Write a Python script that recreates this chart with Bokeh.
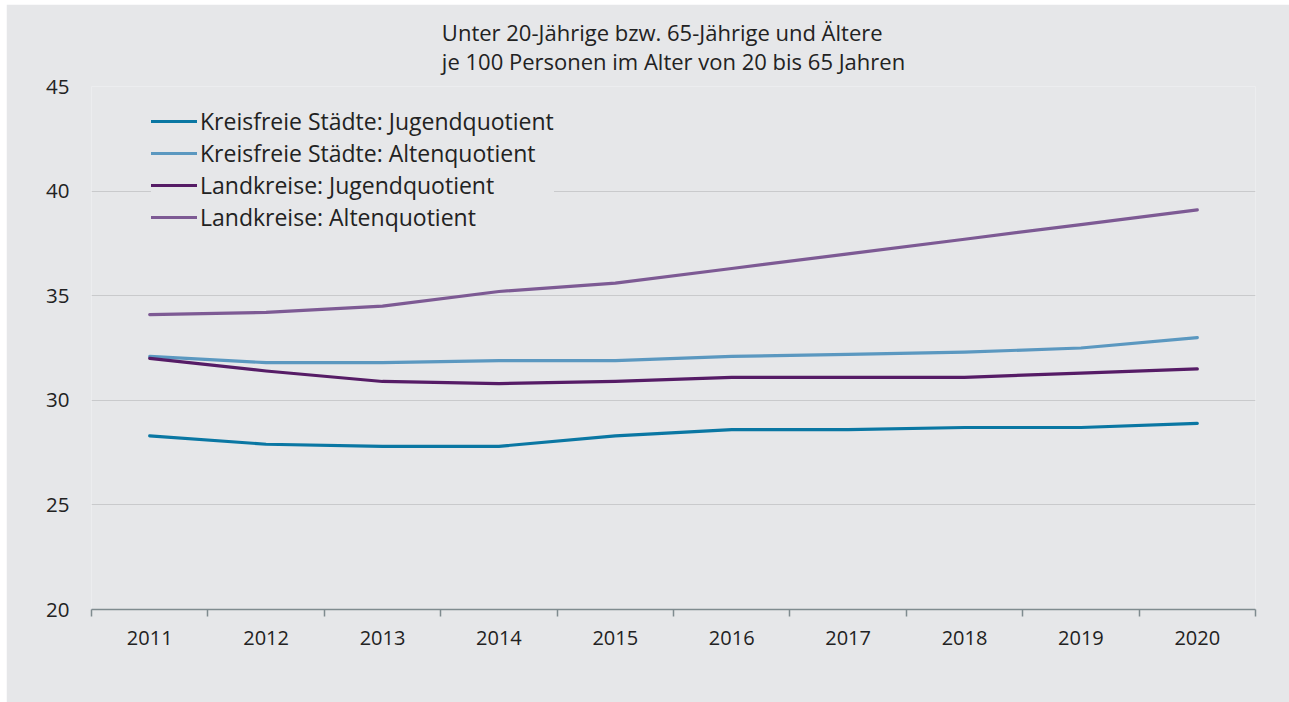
from bokeh.plotting import figure
from bokeh.models import (ColumnDataSource, Range1d, FixedTicker, Legend, LegendItem, Title)
from bokeh.embed import file_html
from bokeh.resources import INLINE

years = ["2011", "2012", "2013", "2014", "2015", "2016", "2017", "2018", "2019", "2020"]
ks_jugend = [28.3, 27.9, 27.8, 27.8, 28.3, 28.6, 28.6, 28.7, 28.7, 28.9]
ks_alten = [32.1, 31.8, 31.8, 31.9, 31.9, 32.1, 32.2, 32.3, 32.5, 33.0]
lk_jugend = [32.0, 31.4, 30.9, 30.8, 30.9, 31.1, 31.1, 31.1, 31.3, 31.5]
lk_alten = [34.1, 34.2, 34.5, 35.2, 35.6, 36.3, 37.0, 37.7, 38.4, 39.1]
series_names = ["Kreisfreie Städte: Jugendquotient", "Kreisfreie Städte: Altenquotient",
                "Landkreise: Jugendquotient", "Landkreise: Altenquotient"]
series_colors = ["#0a77a3", "#5b98c0", "#561c66", "#7d5a94"]
y_ticks = [20, 25, 30, 35, 40, 45]
title_lines = ["Unter 20-Jährige bzw. 65-Jährige und Ältere",
               "je 100 Personen im Alter von 20 bis 65 Jahren"]

BG = "#e6e7e9"
FONT = "Open Sans"
TXT = "#222222"

xpos = [i + 0.5 for i in range(len(years))]

p = figure(width=1283, height=698, output_backend="svg", toolbar_location=None,
           x_range=Range1d(0, len(years)), y_range=Range1d(20, 45),
           min_border_left=85, min_border_right=34, min_border_top=82, min_border_bottom=93,
           title=None)
p.margin = (4, 0, 0, 6)
p.background_fill_color = BG
p.border_fill_color = BG
p.outline_line_color = None

p.add_layout(Title(text="\n".join(title_lines), align="center", text_font=FONT,
                   text_font_size="22px", text_font_style="normal", text_color=TXT,
                   text_line_height=0.97, standoff=21), "above")

items = []
for vals, name, col in zip([ks_jugend, ks_alten, lk_jugend, lk_alten], series_names, series_colors):
    src = ColumnDataSource(dict(x=xpos, y=vals))
    r = p.line("x", "y", source=src, line_color=col, line_width=3.2,
               line_cap="round", line_join="round")
    items.append(LegendItem(label=name, renderers=[r]))

# x axis
xa = p.xaxis[0]
xa.ticker = FixedTicker(ticks=xpos, minor_ticks=list(range(len(years) + 1)))
xa.major_label_overrides = {x: y for x, y in zip(xpos, years)}
xa.major_tick_out = 0
xa.major_tick_in = 0
xa.minor_tick_out = 7
xa.minor_tick_in = 0
xa.minor_tick_line_color = "#7f8b8f"
xa.minor_tick_line_width = 1.5
xa.axis_line_color = "#7f8b8f"
xa.axis_line_width = 1.5
xa.major_label_text_font = FONT
xa.major_label_text_font_size = "20px"
xa.major_label_text_color = TXT
xa.major_label_standoff = 14
p.xgrid.grid_line_color = None

# y axis
ya = p.yaxis[0]
ya.ticker = FixedTicker(ticks=y_ticks, minor_ticks=[])
ya.axis_line_color = None
ya.major_tick_line_color = None
ya.major_tick_out = 0
ya.major_tick_in = 0
ya.minor_tick_line_color = None
ya.major_label_text_font = FONT
ya.major_label_text_font_size = "20.5px"
ya.major_label_text_color = TXT
ya.major_label_standoff = 22
p.ygrid.grid_line_color = "#c9cacc"
p.ygrid.grid_line_width = 1.2
p.ygrid.ticker = FixedTicker(ticks=y_ticks[1:])

legend = Legend(items=items, location=(60, 376), orientation="vertical",
                background_fill_color=BG, background_fill_alpha=1.0,
                border_line_color=None, padding=10, margin=0, spacing=0,
                glyph_width=46, glyph_height=32, label_height=32, label_standoff=3,
                label_text_font=FONT, label_text_font_size="23px", label_text_color=TXT)
p.add_layout(legend, "center")

open("out.html", "w").write(file_html(p, INLINE))
